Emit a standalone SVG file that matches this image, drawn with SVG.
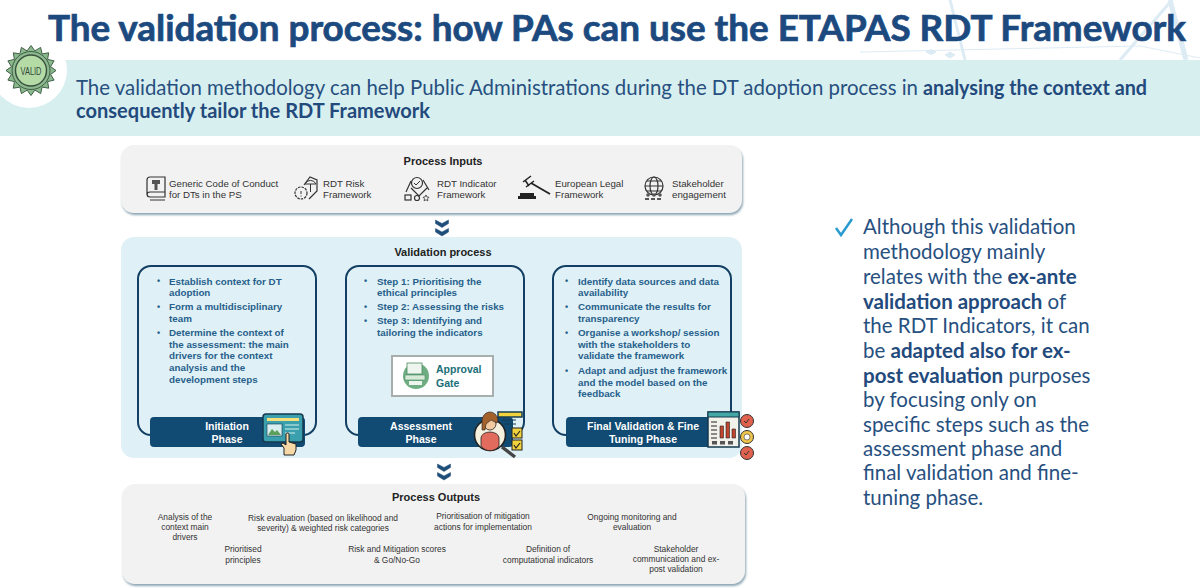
<svg xmlns="http://www.w3.org/2000/svg" width="1200" height="588" viewBox="0 0 1200 588">
<defs>
<filter id="sh" x="-5%" y="-15%" width="110%" height="130%"><feDropShadow dx="1" dy="2" stdDeviation="1" flood-color="#7f9bab" flood-opacity="0.9"/></filter>
<g id="chev"><path d="M-6.5,-8 L0,-4.5 L6.5,-8 L6.5,-4.5 L0,-0.5 L-6.5,-4.5Z M-6.5,0.5 L0,4 L6.5,0.5 L6.5,4 L0,8 L-6.5,4Z" fill="#1f4e79" stroke="#1f4e79" stroke-width=".5" stroke-linejoin="round"/></g>
</defs>
<style>
text{font-family:"Liberation Sans",Arial,sans-serif}
.title{font-family:Lato,"Noto Sans",sans-serif;font-weight:700;font-size:36px;fill:#1c4a7f;stroke:#1c4a7f;stroke-width:.7}
.sub{font-family:Lato,sans-serif;font-size:21px;fill:#27507f}
.subb{font-family:Lato,sans-serif;font-size:21px;font-weight:700;fill:#234a7c}
.side{font-family:Lato,sans-serif;font-size:20.5px;fill:#27507f}
.side tspan{font-weight:700;fill:#234a7c}
.head{font-weight:700;font-size:11px;fill:#222}
.in{font-size:9.7px;fill:#333}
.bul{font-weight:700;font-size:9.8px;fill:#27608c}
.dot{font-size:9px}
.ph{font-weight:700;font-size:10.5px;fill:#fff;text-anchor:middle}
.out{font-size:8.4px;fill:#333;text-anchor:middle}
.card{fill:#f2f2f2;filter:url(#sh)}
.box{fill:none;stroke:#123f63;stroke-width:2}
.bar{fill:#114a72}
.ic{fill:none;stroke:#333;stroke-width:1.2}
</style>
<rect width="1200" height="588" fill="#fff"/>
<g id="backdrop" fill="none" stroke="#dcebf4">
<path d="M1170,0 L1186,60" stroke-width="5"/>
<path d="M1172,0 L1120,60" stroke-width="3"/>
<path d="M950,0 L965,60" stroke-width="3"/>
<path d="M860,52 L1140,46 L1200,58"/>
<path d="M926,52 l5,-2.5 5,2.5 -5,2.5Z M945,55 l5,-3 5,3 -5,3Z" fill="#dcebf4"/>
</g>
<text class="title" x="48" y="41" textLength="1138" lengthAdjust="spacingAndGlyphs">The validation process: how PAs can use the ETAPAS RDT Framework</text>
<g id="banner">
<rect x="0" y="60" width="1200" height="76" fill="#d8eff0"/>
<circle cx="29" cy="70" r="38" fill="#fff"/>
<g id="valid-badge">
<polygon points="56,70.5 50.6,74.4 54.1,80.1 47.6,81.6 48.7,88.2 42.1,87.1 40.6,93.6 34.9,90.1 31,95.5 27.1,90.1 21.4,93.6 19.9,87.1 13.3,88.2 14.4,81.6 7.9,80.1 11.4,74.4 6,70.5 11.4,66.6 7.9,60.9 14.4,59.4 13.3,52.8 19.9,53.9 21.4,47.4 27.1,50.9 31,45.5 34.9,50.9 40.6,47.4 42.1,53.9 48.7,52.8 47.6,59.4 54.1,60.9 50.6,66.6" fill="#8cb88e" stroke="#3f5f46" stroke-width="1"/>
<circle cx="31" cy="70.5" r="19" fill="none" stroke="#3f5f46" stroke-width="1"/>
<circle cx="31" cy="70.5" r="15.5" fill="#b4dba6" stroke="#39503f" stroke-width="1.4"/>
<text x="31" y="75" text-anchor="middle" font-size="11.5" fill="#33473a" textLength="21" lengthAdjust="spacingAndGlyphs">VALID</text>
</g>
<text class="sub" x="76" y="95" textLength="842" lengthAdjust="spacingAndGlyphs">The validation methodology can help Public Administrations during the DT adoption process in</text>
<text class="subb" x="923" y="95" textLength="224" lengthAdjust="spacingAndGlyphs">analysing the context and</text>
<text class="subb" x="76" y="118" textLength="354" lengthAdjust="spacingAndGlyphs">consequently tailor the RDT Framework</text>
</g>
<g id="process-inputs">
<rect class="card" x="121" y="145" width="621" height="68" rx="13"/>
<text class="head" x="443" y="165" text-anchor="middle">Process Inputs</text>
<g id="i1"><path class="ic" d="M150,177 H165 V197 H150 a3,3 0 0 1 -3,-3 V180 a3,3 0 0 1 3,-3Z M147,195 a3,3 0 0 1 3,-3 H165 M150,200 H165"/><path d="M152,180 h8 v4 h-2.5 v6 h-3 v-6 h-2.5Z" fill="#555"/>
<text class="in" x="169" y="187">Generic Code of Conduct</text><text class="in" x="169" y="197.5">for DTs in the PS</text></g>
<g id="i2"><circle class="ic" cx="301" cy="193" r="6" stroke-dasharray="2.5 1"/><path d="M301,191 v3 M301,195.5 v1" stroke="#333" fill="none"/><path class="ic" d="M304,185 L310,177 L317,180 L317,191 L309,199"/><path d="M305,184 a6,6 0 0 1 11,0Z M310.5,184 V192" stroke="#333" fill="none"/>
<text class="in" x="323" y="187">RDT Risk</text><text class="in" x="323" y="197.5">Framework</text></g>
<g id="i3"><circle class="ic" cx="417" cy="183" r="5.5"/><path d="M414,183 l2,2 4,-4" fill="none" stroke="#333"/><path class="ic" d="M406,192 L411,181 M423,180 L429,190 M411,188 L419,196 L427,188"/><rect class="ic" x="405" y="195" width="6" height="5"/><circle class="ic" cx="417" cy="198" r="2.5"/><path d="M426,195 l1,2 2,.3 -1.5,1.5 .4,2 -1.9,-1 -1.9,1 .4,-2 -1.5,-1.5 2,-.3Z" fill="none" stroke="#333" stroke-width=".8"/>
<text class="in" x="437" y="187">RDT Indicator</text><text class="in" x="437" y="197.5">Framework</text></g>
<g id="i4"><path d="M518,199 h18 v-3 h-2 v-3 h-14 v3 h-2Z" fill="#222"/><path d="M523,182 L531,176 M526,187 L534,181 M525,180 L529,186" fill="none" stroke="#222" stroke-width="1.5"/><path d="M531,183 L550,194" fill="none" stroke="#222" stroke-width="1.8"/>
<text class="in" x="555" y="187">European Legal</text><text class="in" x="555" y="197.5">Framework</text></g>
<g id="i5"><circle class="ic" cx="654" cy="186" r="9"/><ellipse class="ic" cx="654" cy="186" rx="4" ry="9"/><path class="ic" d="M645,186 h18 M647,181 h14 M647,191 h14"/><circle cx="648" cy="195" r="1.8" fill="#555"/><circle cx="654" cy="195" r="1.8" fill="#555"/><circle cx="660" cy="195" r="1.8" fill="#555"/><path d="M645,199 h18" stroke="#555" stroke-width="2" stroke-dasharray="4 2"/>
<text class="in" x="672" y="187">Stakeholder</text><text class="in" x="672" y="197.5">engagement</text></g>
</g>
<g id="connectors">
<use href="#chev" x="442" y="228"/>
<use href="#chev" x="444" y="472"/>
</g>
<g id="validation-process">
<rect x="121" y="237" width="621" height="221" rx="13" fill="#dff1f6"/>
<text class="head" x="443" y="256" text-anchor="middle">Validation process</text>
</g>
<g id="initiation-phase">
<rect class="box" x="138" y="266" width="178" height="169" rx="13"/>
<g class="bul">
<text x="157" y="284" class="dot">•</text><text x="169" y="285">Establish context for DT</text><text x="169" y="296">adoption</text>
<text x="157" y="310" class="dot">•</text><text x="169" y="310">Form a multidisciplinary</text><text x="169" y="322">team</text>
<text x="157" y="336" class="dot">•</text><text x="169" y="336">Determine the context of</text><text x="169" y="348">the assessment: the main</text><text x="169" y="359">drivers for the context</text><text x="169" y="371">analysis and the</text><text x="169" y="383">development steps</text>
</g>
<rect class="bar" x="150" y="417" width="155" height="30" rx="4"/>
<text class="ph" x="227" y="430">Initiation</text><text class="ph" x="227" y="443">Phase</text>
<g id="initiation-icon"><rect x="263" y="414" width="40" height="28" rx="3" fill="#3aa0ad" stroke="#16384f" stroke-width="1.5"/><rect x="267" y="418" width="32" height="3" fill="#f4df7a"/><rect x="267" y="424" width="15" height="12" fill="#d8eef0" stroke="#16384f" stroke-width=".6"/><path d="M268,435 l4,-6 3,3 2,-2 4,5Z" fill="#5aa05a"/><path d="M285,425 h14 M285,429 h14 M285,433 h10" stroke="#d8eef0"/><path d="M284,455 v-7 l-3,-4 2,-1 3,2 v-11 a1.6,1.6 0 0 1 3,0 v8 l7,2 v6 l-2,5Z" fill="#f6d9a6" stroke="#222"/></g>
</g>
<g id="assessment-phase">
<rect class="box" x="346" y="266" width="178" height="169" rx="13"/>
<g class="bul">
<text x="364" y="284" class="dot">•</text><text x="377" y="285">Step 1: Prioritising the</text><text x="377" y="296">ethical principles</text>
<text x="364" y="310" class="dot">•</text><text x="377" y="310">Step 2: Assessing the risks</text>
<text x="364" y="324" class="dot">•</text><text x="377" y="324">Step 3: Identifying and</text><text x="377" y="336">tailoring the indicators</text>
</g>
<g id="approval-gate"><rect x="392" y="356" width="101" height="40" fill="#fff" stroke="#a8adad" stroke-width="2"/><circle cx="416" cy="376" r="13" fill="#6fae82"/><rect x="407" y="363" width="15" height="11" fill="#eef5ee" stroke="#4c8a64" stroke-width=".8"/><rect x="405" y="375" width="20" height="5" fill="#d6ead8" stroke="#4c8a64" stroke-width=".6"/><rect x="409" y="381" width="13" height="4" fill="#eef5ee"/>
<text x="436" y="373" font-weight="700" font-size="10.5" fill="#1a6f78">Approval</text><text x="436" y="387" font-weight="700" font-size="10.5" fill="#1a6f78">Gate</text></g>
<rect class="bar" x="358" y="417" width="155" height="30" rx="4"/>
<text class="ph" x="421" y="430">Assessment</text><text class="ph" x="421" y="443">Phase</text>
<g id="assessment-icon"><rect x="498" y="412" width="24" height="5" fill="#f2d23c" stroke="#163c52" stroke-width="1.5"/><path d="M502,420 h14 M504,424 h12" stroke="#16384f"/><rect x="512" y="428" width="10" height="10" fill="#f2d23c" stroke="#222"/><rect x="512" y="440" width="10" height="10" fill="#f2d23c" stroke="#222"/><path d="M514,433 l2,3 4,-5 M514,445 l2,3 4,-5" fill="none" stroke="#222" stroke-width="1.2"/><path d="M502,447 L515,457" stroke="#444" stroke-width="3.4"/><circle cx="490" cy="435" r="15.5" fill="#f6f0df" stroke="#222" stroke-width="1.6"/><path d="M481,446 v-8 a9,6 0 0 1 18,0 v8 a11,11 0 0 1 -18,0Z" fill="#e16b5c" stroke="#222" stroke-width=".8"/><circle cx="490" cy="424" r="6" fill="#f3c9a0" stroke="#222" stroke-width=".8"/><path d="M482,430 v-8 a8,9 0 0 1 16,-2 l-1,3 -6,-3 -5,4 -1,6Z" fill="#a3612c" stroke="#222" stroke-width=".6"/></g>
</g>
<g id="final-validation-phase">
<rect class="box" x="553" y="266" width="178" height="169" rx="13"/>
<g class="bul">
<text x="565" y="284" class="dot">•</text><text x="578" y="285">Identify data sources and data</text><text x="578" y="296">availability</text>
<text x="565" y="310" class="dot">•</text><text x="578" y="310">Communicate the results for</text><text x="578" y="322">transparency</text>
<text x="565" y="336" class="dot">•</text><text x="578" y="336">Organise a workshop/ session</text><text x="578" y="348">with the stakeholders to</text><text x="578" y="359">validate the framework</text>
<text x="565" y="374" class="dot">•</text><text x="578" y="374">Adapt and adjust the framework</text><text x="578" y="386">and the model based on the</text><text x="578" y="397">feedback</text>
</g>
<rect class="bar" x="566" y="417" width="155" height="30" rx="4"/>
<text class="ph" x="643" y="430">Final Validation &amp; Fine</text><text class="ph" x="643" y="443">Tuning Phase</text>
<g id="final-icon"><rect x="708" y="412" width="31" height="35" fill="#f2f2ea" stroke="#16384f" stroke-width="1.5"/><rect x="708" y="412" width="31" height="5" fill="#42a7a5" stroke="#16384f"/><path d="M720,438 v-12 h3.5 v12Z M726,438 v-16 h3.5 v16Z M732,438 v-9 h3.5 v9Z" fill="#c0452c" stroke="#222" stroke-width=".6"/><path d="M711,422 h6 M711,426 h6 M711,430 h6 M711,434 h6 M711,438 h6" stroke="#222"/><rect x="712" y="441" width="5" height="3.5" fill="#555"/><rect x="720" y="441" width="5" height="3.5" fill="#555"/><rect x="728" y="441" width="5" height="3.5" fill="#555"/>
<circle cx="747" cy="421" r="6.5" fill="#e0614e" stroke="#333"/><circle cx="747" cy="437" r="6.5" fill="#efc44a" stroke="#333"/><circle cx="747" cy="437" r="3" fill="#fff" stroke="#333" stroke-width=".6"/><circle cx="747" cy="453" r="6.5" fill="#e0614e" stroke="#333"/><path d="M744,421 l2,2 3,-4 M744,453 l2,2 3,-4" fill="none" stroke="#333"/></g>
</g>
<g id="process-outputs">
<rect class="card" x="122" y="484" width="623" height="100" rx="13"/>
<text class="head" x="436" y="501" text-anchor="middle">Process Outputs</text>
<text class="out" x="185" y="520">Analysis of the</text><text class="out" x="185" y="530">context main</text><text class="out" x="185" y="540">drivers</text>
<text class="out" x="243" y="552">Prioritised</text><text class="out" x="243" y="563">principles</text>
<text class="out" x="323" y="521">Risk evaluation (based on likelihood and</text><text class="out" x="323" y="531">severity) &amp; weighted risk categories</text>
<text class="out" x="397" y="552">Risk and Mitigation scores</text><text class="out" x="397" y="563">&amp; Go/No-Go</text>
<text class="out" x="483" y="519">Prioritisation of mitigation</text><text class="out" x="483" y="530">actions for implementation</text>
<text class="out" x="548" y="552">Definition of</text><text class="out" x="548" y="563">computational indicators</text>
<text class="out" x="632" y="520">Ongoing monitoring and</text><text class="out" x="632" y="530">evaluation</text>
<text class="out" x="676" y="552">Stakeholder</text><text class="out" x="676" y="562">communication and ex-</text><text class="out" x="676" y="572">post validation</text>
</g>
<g id="side-note">
<path d="M836,228 l5,7 11,-16" fill="none" stroke="#2a9bd0" stroke-width="2.5"/>
<text class="side" x="863" y="234">Although this validation</text>
<text class="side" x="863" y="259">methodology mainly</text>
<text class="side" x="863" y="284">relates with the <tspan>ex-ante</tspan></text>
<text class="side" x="863" y="309"><tspan>validation approach</tspan> of</text>
<text class="side" x="863" y="333">the RDT Indicators, it can</text>
<text class="side" x="863" y="358">be <tspan>adapted also for ex-</tspan></text>
<text class="side" x="863" y="383"><tspan>post evaluation</tspan> purposes</text>
<text class="side" x="863" y="407">by focusing only on</text>
<text class="side" x="863" y="432">specific steps such as the</text>
<text class="side" x="863" y="456">assessment phase and</text>
<text class="side" x="863" y="480">final validation and fine-</text>
<text class="side" x="863" y="505">tuning phase.</text>
</g>
</svg>
